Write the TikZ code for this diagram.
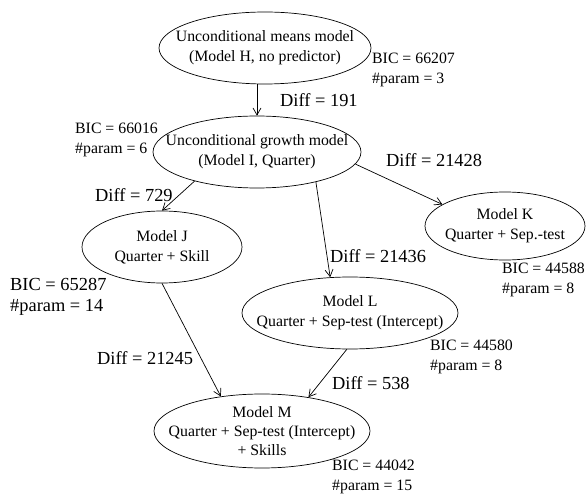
\documentclass[tikz,border=0pt]{standalone}
\usepackage{fontspec}
\setmainfont{Liberation Serif}
\usetikzlibrary{shapes.geometric,arrows.meta}
\begin{document}
\begin{tikzpicture}[x=1pt,y=-1pt,
  model/.style={draw, ellipse, inner sep=0pt, line width=0.7pt},
  modeltext/.style={inner sep=0pt, align=center, font=\fontsize{15.8}{20}\selectfont},
  info/.style={anchor=west, inner sep=0pt, align=left, font=\fontsize{15.8}{19.5}\selectfont},
  biginfo/.style={anchor=west, inner sep=0pt, align=left, font=\fontsize{18.4}{21.5}\selectfont},
  edge/.style={draw, line width=0.7pt, -{Straight Barb[length=7pt,width=8pt]}}]
\useasboundingbox (0,0) rectangle (587,494);
% ellipses
\node[model, minimum width=212pt, minimum height=72pt] (H) at (265,48) {};
\node[modeltext] (Ht) at (H.center) {Unconditional means model\\(Model H, no predictor)};
\node[model, minimum width=208pt, minimum height=72pt] (I) at (257,152) {};
\node[modeltext] (It) at (I.center) {Unconditional growth model\\(Model I, Quarter)};
\node[model, minimum width=160pt, minimum height=72pt] (J) at (162,247) {};
\node[modeltext] (Jt) at (J.center) {Model J\\Quarter + Skill};
\node[model, minimum width=160pt, minimum height=68pt] (K) at (505,226) {};
\node[modeltext] (Kt) at (K.center) {Model K\\Quarter + Sep.-test};
\node[model, minimum width=216pt, minimum height=72pt] (L) at (350,313) {};
\node[modeltext] (Lt) at (L.center) {Model L\\Quarter + Sep-test (Intercept)};
\node[model, minimum width=216pt, minimum height=74pt] (M) at (262,431) {};
\node[modeltext, font=\fontsize{15.8}{19}\selectfont] (Mt) at (M.center) {Model M\\Quarter + Sep-test (Intercept)\\+ Skills};
% info
\node[info] (Hi) at (372,70) {BIC = 66207\\\#param = 3};
\node[info] (Ii) at (75,140) {BIC = 66016\\\#param = 6};
\node[biginfo] (Ji) at (10,297) {BIC = 65287\\\#param = 14};
\node[info] (Ki) at (502,280) {BIC = 44588\\\#param = 8};
\node[info] (Li) at (430,357) {BIC = 44580\\\#param = 8};
\node[info] (Mi) at (332,477) {BIC = 44042\\\#param = 15};
% diffs
\node[biginfo] (d1) at (280,100) {Diff = 191};
\node[biginfo] (d2) at (95,195) {Diff = 729};
\node[biginfo] (d3) at (386,160) {Diff = 21428};
\node[biginfo] (d4) at (330,256) {Diff = 21436};
\node[biginfo] (d5) at (97,358) {Diff = 21245};
\node[biginfo] (d6) at (332,383) {Diff = 538};
% edges
\draw[edge] (H.south -| I.north) -- (I.north);
\draw[edge] (I.205) -- (J.north);
\draw[edge] (I.-7.5) -- (K.161);
\draw[edge] (I.-27) -- (L.119);
\draw[edge] (J.south) -- (M.140);
\draw[edge] (L.-95) -- (M.36);
\end{tikzpicture}
\end{document}
